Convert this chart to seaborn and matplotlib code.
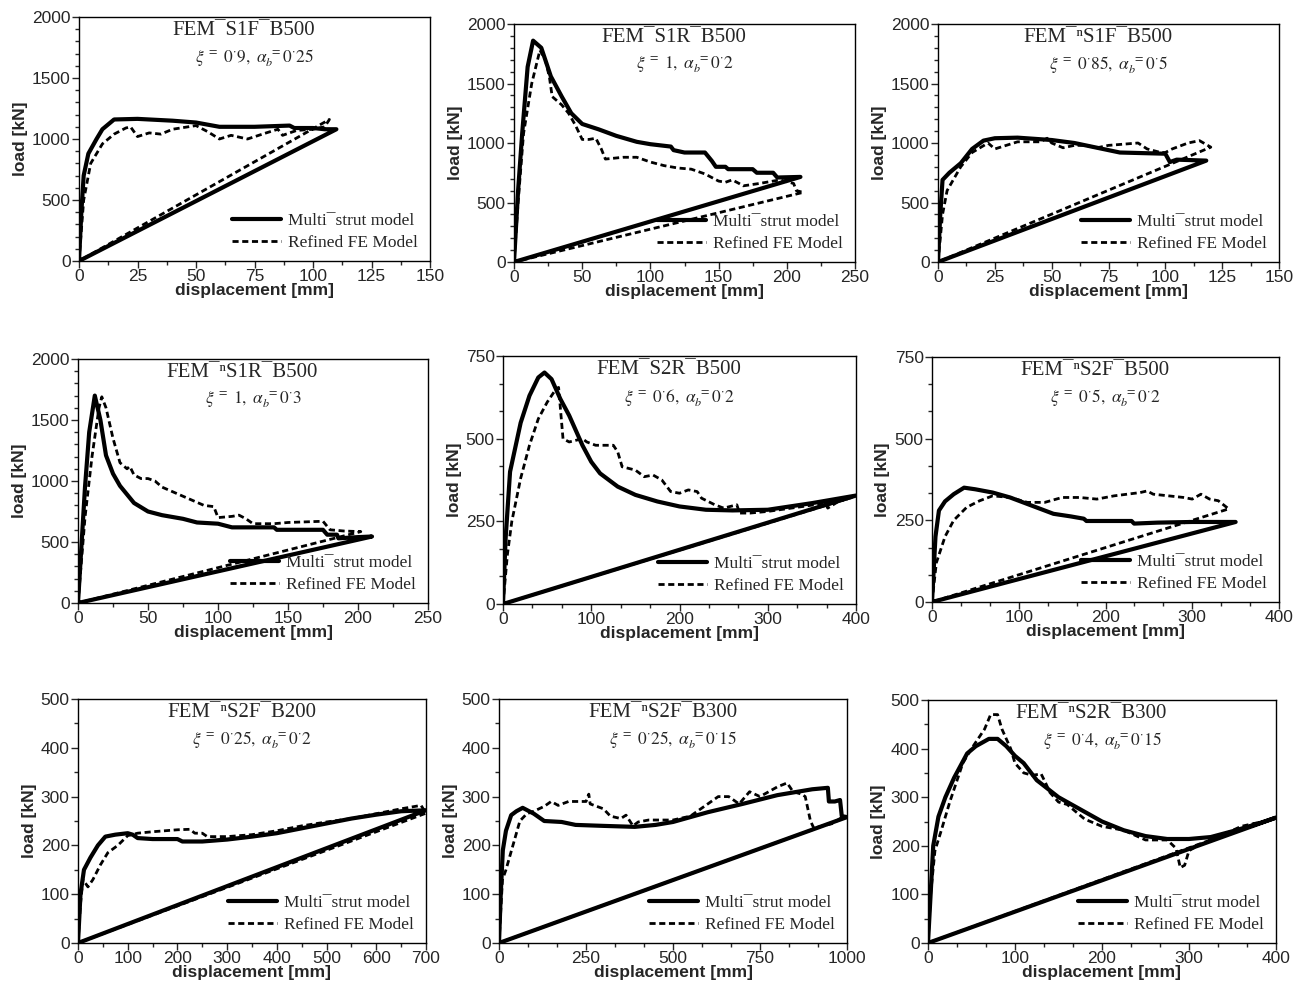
import seaborn as sns
import matplotlib.pyplot as plt
from matplotlib.ticker import MultipleLocator, AutoMinorLocator

# panel titles / parameters
titles = ["FEM¯S1F¯B500", "FEM¯S1R¯B500", "FEM¯ⁿS1F¯B500",
          "FEM¯ⁿS1R¯B500", "FEM¯S2R¯B500", "FEM¯ⁿS2F¯B500",
          "FEM¯ⁿS2F¯B200", "FEM¯ⁿS2F¯B300", "FEM¯ⁿS2R¯B300"]
xi_vals = ["0·9", "1", "0·85", "1", "0·6", "0·5", "0·25", "0·25", "0·4"]
alpha_vals = ["0·25", "0·2", "0·5", "0·3", "0·2", "0·2", "0·2", "0·15", "0·15"]
x_max = [150, 250, 150, 250, 400, 400, 700, 1000, 400]
y_max = [2000, 2000, 2000, 2000, 750, 750, 500, 500, 500]
x_major = [25, 50, 25, 50, 100, 100, 100, 250, 100]
x_minor = [2, 2, 2, 2, 3, 3, 2, 3, 3]
y_major = [500, 500, 500, 500, 250, 250, 100, 100, 100]
y_minor = [5, 5, 5, 5, 3, 3, 2, 2, 2]

# panel 1
p1_multi_x = [0, 1, 2, 4, 7.5, 10, 15, 25, 40, 50, 60, 75, 90, 92, 100, 105, 110, 0]
p1_multi_y = [0, 400, 700, 880, 1000, 1080, 1160, 1165, 1150, 1135, 1100, 1100, 1110, 1090, 1090, 1080, 1080, 0]
p1_fe_x = [0, 2, 5, 10, 15, 20, 22, 25, 30, 35, 40, 50, 55, 60, 65, 72, 80, 85, 87, 93, 100, 105, 107, 0]
p1_fe_y = [0, 500, 800, 960, 1040, 1090, 1100, 1020, 1050, 1040, 1080, 1110, 1060, 1000, 1030, 1000, 1050, 1080, 1030, 1070, 1080, 1100, 1160, 0]

# panel 2
p2_multi_x = [0, 3, 6, 10, 14, 20, 27, 35, 42, 50, 62, 75, 90, 100, 115, 117, 125, 140, 145, 148, 155, 157, 175, 178, 190, 193, 210, 0]
p2_multi_y = [0, 600, 1080, 1640, 1860, 1800, 1560, 1390, 1250, 1160, 1115, 1060, 1010, 990, 970, 940, 920, 920, 850, 800, 800, 780, 780, 750, 750, 710, 715, 0]
p2_fe_x = [0, 3, 7, 13, 19, 23, 26, 28, 35, 40, 45, 50, 55, 60, 64, 67, 80, 90, 100, 110, 120, 130, 140, 150, 155, 160, 165, 168, 180, 195, 205, 207, 212, 0]
p2_fe_y = [0, 500, 1080, 1500, 1780, 1700, 1550, 1390, 1320, 1250, 1150, 1030, 1030, 1040, 950, 865, 880, 880, 840, 810, 790, 780, 740, 680, 670, 690, 660, 640, 660, 690, 660, 600, 585, 0]

# panel 3
p3_multi_x = [0, 1, 2, 5, 10, 15, 20, 25, 35, 50, 60, 70, 80, 90, 100, 102, 105, 118, 0]
p3_multi_y = [0, 400, 690, 750, 830, 950, 1020, 1040, 1045, 1025, 1000, 960, 920, 915, 910, 840, 860, 852, 0]
p3_fe_x = [0, 2, 4, 10, 15, 22, 25, 30, 35, 45, 48, 50, 55, 60, 65, 70, 75, 88, 92, 98, 100, 103, 110, 115, 120, 0]
p3_fe_y = [0, 400, 600, 800, 920, 1000, 950, 980, 1010, 1010, 1040, 1000, 960, 980, 980, 960, 980, 1000, 950, 920, 920, 950, 1000, 1020, 965, 0]

# panel 4
p4_multi_x = [0, 5, 8, 12, 16, 20, 25, 30, 40, 50, 60, 75, 85, 100, 110, 140, 142, 175, 178, 185, 186, 200, 210, 0]
p4_multi_y = [0, 950, 1400, 1700, 1500, 1210, 1060, 960, 820, 750, 720, 690, 660, 650, 620, 620, 600, 600, 560, 560, 530, 540, 545, 0]
p4_fe_x = [0, 5, 10, 15, 17, 20, 25, 30, 35, 37, 40, 45, 50, 55, 60, 70, 80, 90, 97, 100, 110, 115, 120, 125, 140, 150, 175, 180, 190, 202, 0]
p4_fe_y = [0, 700, 1200, 1600, 1690, 1600, 1350, 1150, 1100, 1120, 1050, 1020, 1020, 1000, 950, 900, 850, 800, 790, 700, 710, 720, 690, 650, 650, 660, 670, 600, 590, 585, 0]

# panel 5
p5_multi_x = [0, 3, 8, 20, 30, 40, 47, 55, 65, 75, 90, 100, 110, 130, 150, 175, 200, 230, 260, 300, 350, 400, 0]
p5_multi_y = [0, 200, 400, 548, 630, 685, 700, 680, 620, 570, 480, 430, 395, 355, 330, 310, 295, 285, 283, 285, 305, 328, 0]
p5_fe_x = [0, 5, 10, 20, 30, 40, 50, 60, 63, 68, 75, 90, 95, 105, 125, 130, 135, 150, 160, 170, 180, 190, 200, 210, 220, 225, 240, 250, 265, 268, 280, 300, 340, 365, 368, 380, 395, 0]
p5_fe_y = [0, 150, 250, 380, 480, 560, 610, 650, 655, 500, 490, 500, 490, 480, 480, 460, 415, 405, 385, 390, 375, 340, 335, 345, 340, 320, 300, 290, 300, 275, 275, 280, 295, 305, 290, 310, 322, 0]

# panel 6
p6_multi_x = [0, 4, 8, 15, 25, 37, 50, 70, 90, 100, 120, 140, 160, 175, 178, 230, 233, 260, 300, 350, 0]
p6_multi_y = [0, 200, 280, 308, 330, 350, 345, 335, 320, 310, 290, 270, 262, 255, 248, 248, 240, 243, 245, 245, 0]
p6_fe_x = [0, 5, 15, 25, 40, 55, 70, 90, 110, 130, 150, 170, 190, 210, 240, 248, 255, 290, 300, 310, 320, 330, 342, 0]
p6_fe_y = [0, 120, 200, 250, 290, 310, 325, 320, 305, 305, 320, 320, 315, 325, 335, 340, 330, 320, 315, 330, 315, 310, 285, 0]

# panel 7
p7_multi_x = [0, 5, 12, 25, 40, 55, 75, 100, 110, 120, 150, 200, 210, 250, 300, 350, 400, 450, 500, 550, 600, 650, 700, 0]
p7_multi_y = [0, 100, 150, 175, 200, 218, 222, 225, 222, 215, 213, 213, 208, 208, 212, 218, 225, 235, 245, 255, 263, 270, 272, 0]
p7_fe_x = [0, 5, 10, 20, 30, 45, 60, 80, 100, 120, 150, 200, 225, 235, 250, 260, 300, 350, 400, 450, 500, 550, 600, 650, 690, 700, 0]
p7_fe_y = [0, 80, 130, 115, 130, 160, 185, 200, 220, 225, 228, 232, 233, 225, 225, 218, 218, 222, 230, 240, 248, 255, 265, 275, 282, 266, 0]

# panel 8
p8_multi_x = [0, 5, 11, 20, 35, 50, 68, 100, 130, 180, 220, 300, 390, 450, 500, 600, 700, 800, 900, 945, 948, 965, 980, 985, 1000, 0]
p8_multi_y = [0, 100, 190, 230, 262, 270, 277, 265, 250, 248, 242, 240, 238, 242, 248, 268, 285, 303, 315, 318, 290, 290, 293, 260, 258, 0]
p8_fe_x = [0, 10, 20, 40, 60, 80, 100, 130, 150, 170, 200, 250, 258, 262, 300, 320, 350, 365, 385, 400, 430, 500, 550, 600, 630, 660, 690, 720, 750, 800, 828, 845, 870, 880, 895, 905, 930, 960, 980, 1000, 0]
p8_fe_y = [0, 130, 150, 200, 250, 265, 270, 280, 290, 282, 290, 290, 305, 285, 275, 260, 255, 262, 240, 248, 252, 252, 260, 285, 300, 300, 285, 310, 300, 320, 328, 310, 305, 300, 250, 235, 240, 245, 255, 258, 0]

# panel 9
p9_multi_x = [0, 3, 6, 12, 20, 30, 45, 55, 70, 80, 90, 100, 110, 125, 150, 175, 200, 225, 250, 275, 300, 325, 350, 375, 400, 0]
p9_multi_y = [0, 100, 200, 260, 300, 340, 390, 405, 420, 420, 405, 385, 370, 335, 300, 275, 250, 232, 220, 214, 214, 218, 230, 243, 258, 0]
p9_fe_x = [0, 3, 8, 15, 25, 40, 50, 65, 72, 80, 85, 95, 100, 110, 120, 130, 135, 140, 150, 160, 170, 180, 200, 225, 250, 275, 285, 290, 295, 300, 310, 330, 360, 380, 0]
p9_fe_y = [0, 100, 190, 230, 290, 370, 400, 440, 470, 470, 440, 400, 370, 350, 345, 348, 330, 310, 290, 285, 270, 255, 240, 232, 212, 212, 195, 155, 160, 190, 200, 215, 240, 248, 0]

multi_x = [p1_multi_x, p2_multi_x, p3_multi_x, p4_multi_x, p5_multi_x, p6_multi_x, p7_multi_x, p8_multi_x, p9_multi_x]
multi_y = [p1_multi_y, p2_multi_y, p3_multi_y, p4_multi_y, p5_multi_y, p6_multi_y, p7_multi_y, p8_multi_y, p9_multi_y]
fe_x = [p1_fe_x, p2_fe_x, p3_fe_x, p4_fe_x, p5_fe_x, p6_fe_x, p7_fe_x, p8_fe_x, p9_fe_x]
fe_y = [p1_fe_y, p2_fe_y, p3_fe_y, p4_fe_y, p5_fe_y, p6_fe_y, p7_fe_y, p8_fe_y, p9_fe_y]

sns.set_style("ticks")
plt.rcParams['font.family'] = ['Liberation Sans', 'DejaVu Sans']
plt.rcParams['mathtext.fontset'] = 'stix'
serif = ['Liberation Serif', 'DejaVu Serif']

W, H = 1306, 994
# axes boxes in pixels: left, top, right, bottom
boxes = [(79, 17, 430, 261), (514, 24, 855, 262), (938, 24, 1279, 262),
         (78, 359, 428, 603), (503, 356, 856, 604), (932, 357, 1279, 602),
         (78, 699, 426, 943), (499, 699, 847, 943), (928, 700, 1276, 943)]

fig = plt.figure(figsize=(W / 100, H / 100), dpi=100)

for i in range(9):
    l, t, r, b = boxes[i]
    ax = fig.add_axes([l / W, 1 - b / H, (r - l) / W, (b - t) / H])
    sns.lineplot(x=multi_x[i], y=multi_y[i], sort=False, estimator=None, ax=ax,
                 color='black', lw=3.0, label='Multi¯strut model')
    sns.lineplot(x=fe_x[i], y=fe_y[i], sort=False, estimator=None, ax=ax,
                 color='black', lw=2.0, dashes=(2.2, 1.3), label='Refined FE Model')
    ax.set_xlim(0, x_max[i])
    ax.set_ylim(0, y_max[i])
    ax.xaxis.set_major_locator(MultipleLocator(x_major[i]))
    ax.xaxis.set_minor_locator(AutoMinorLocator(x_minor[i]))
    ax.yaxis.set_major_locator(MultipleLocator(y_major[i]))
    ax.yaxis.set_minor_locator(AutoMinorLocator(y_minor[i]))
    ax.tick_params(which='major', length=5, width=1, labelsize=12.5, pad=1)
    ax.tick_params(which='minor', length=3, width=1)
    for s in ax.spines.values():
        s.set_linewidth(1)
        s.set_color('black')
    ax.set_xlabel("displacement [mm]", fontsize=12.5, fontweight='bold', labelpad=-1)
    ax.set_ylabel("load [kN]", fontsize=12.5, fontweight='bold', labelpad=3)
    ax.text(0.47, 0.985, titles[i], transform=ax.transAxes, ha='center', va='top',
            fontsize=15, family=serif)
    ax.text(0.5, 0.875, r"$\xi^{\,=}\ " + xi_vals[i].replace("·", r"^{\cdot}") +
            r",\ \alpha_{b}^{\ =}" + alpha_vals[i].replace("·", r"^{\cdot}") + "$",
            transform=ax.transAxes, ha='center', va='top', fontsize=12.5)
    ax.legend(loc='lower right', bbox_to_anchor=(1.0, -0.01), frameon=False,
              handlelength=2.8, handletextpad=0.4, labelspacing=0.35,
              borderaxespad=0.3, prop={'family': serif, 'size': 12.5})

fig.savefig("out.png", dpi=100)
